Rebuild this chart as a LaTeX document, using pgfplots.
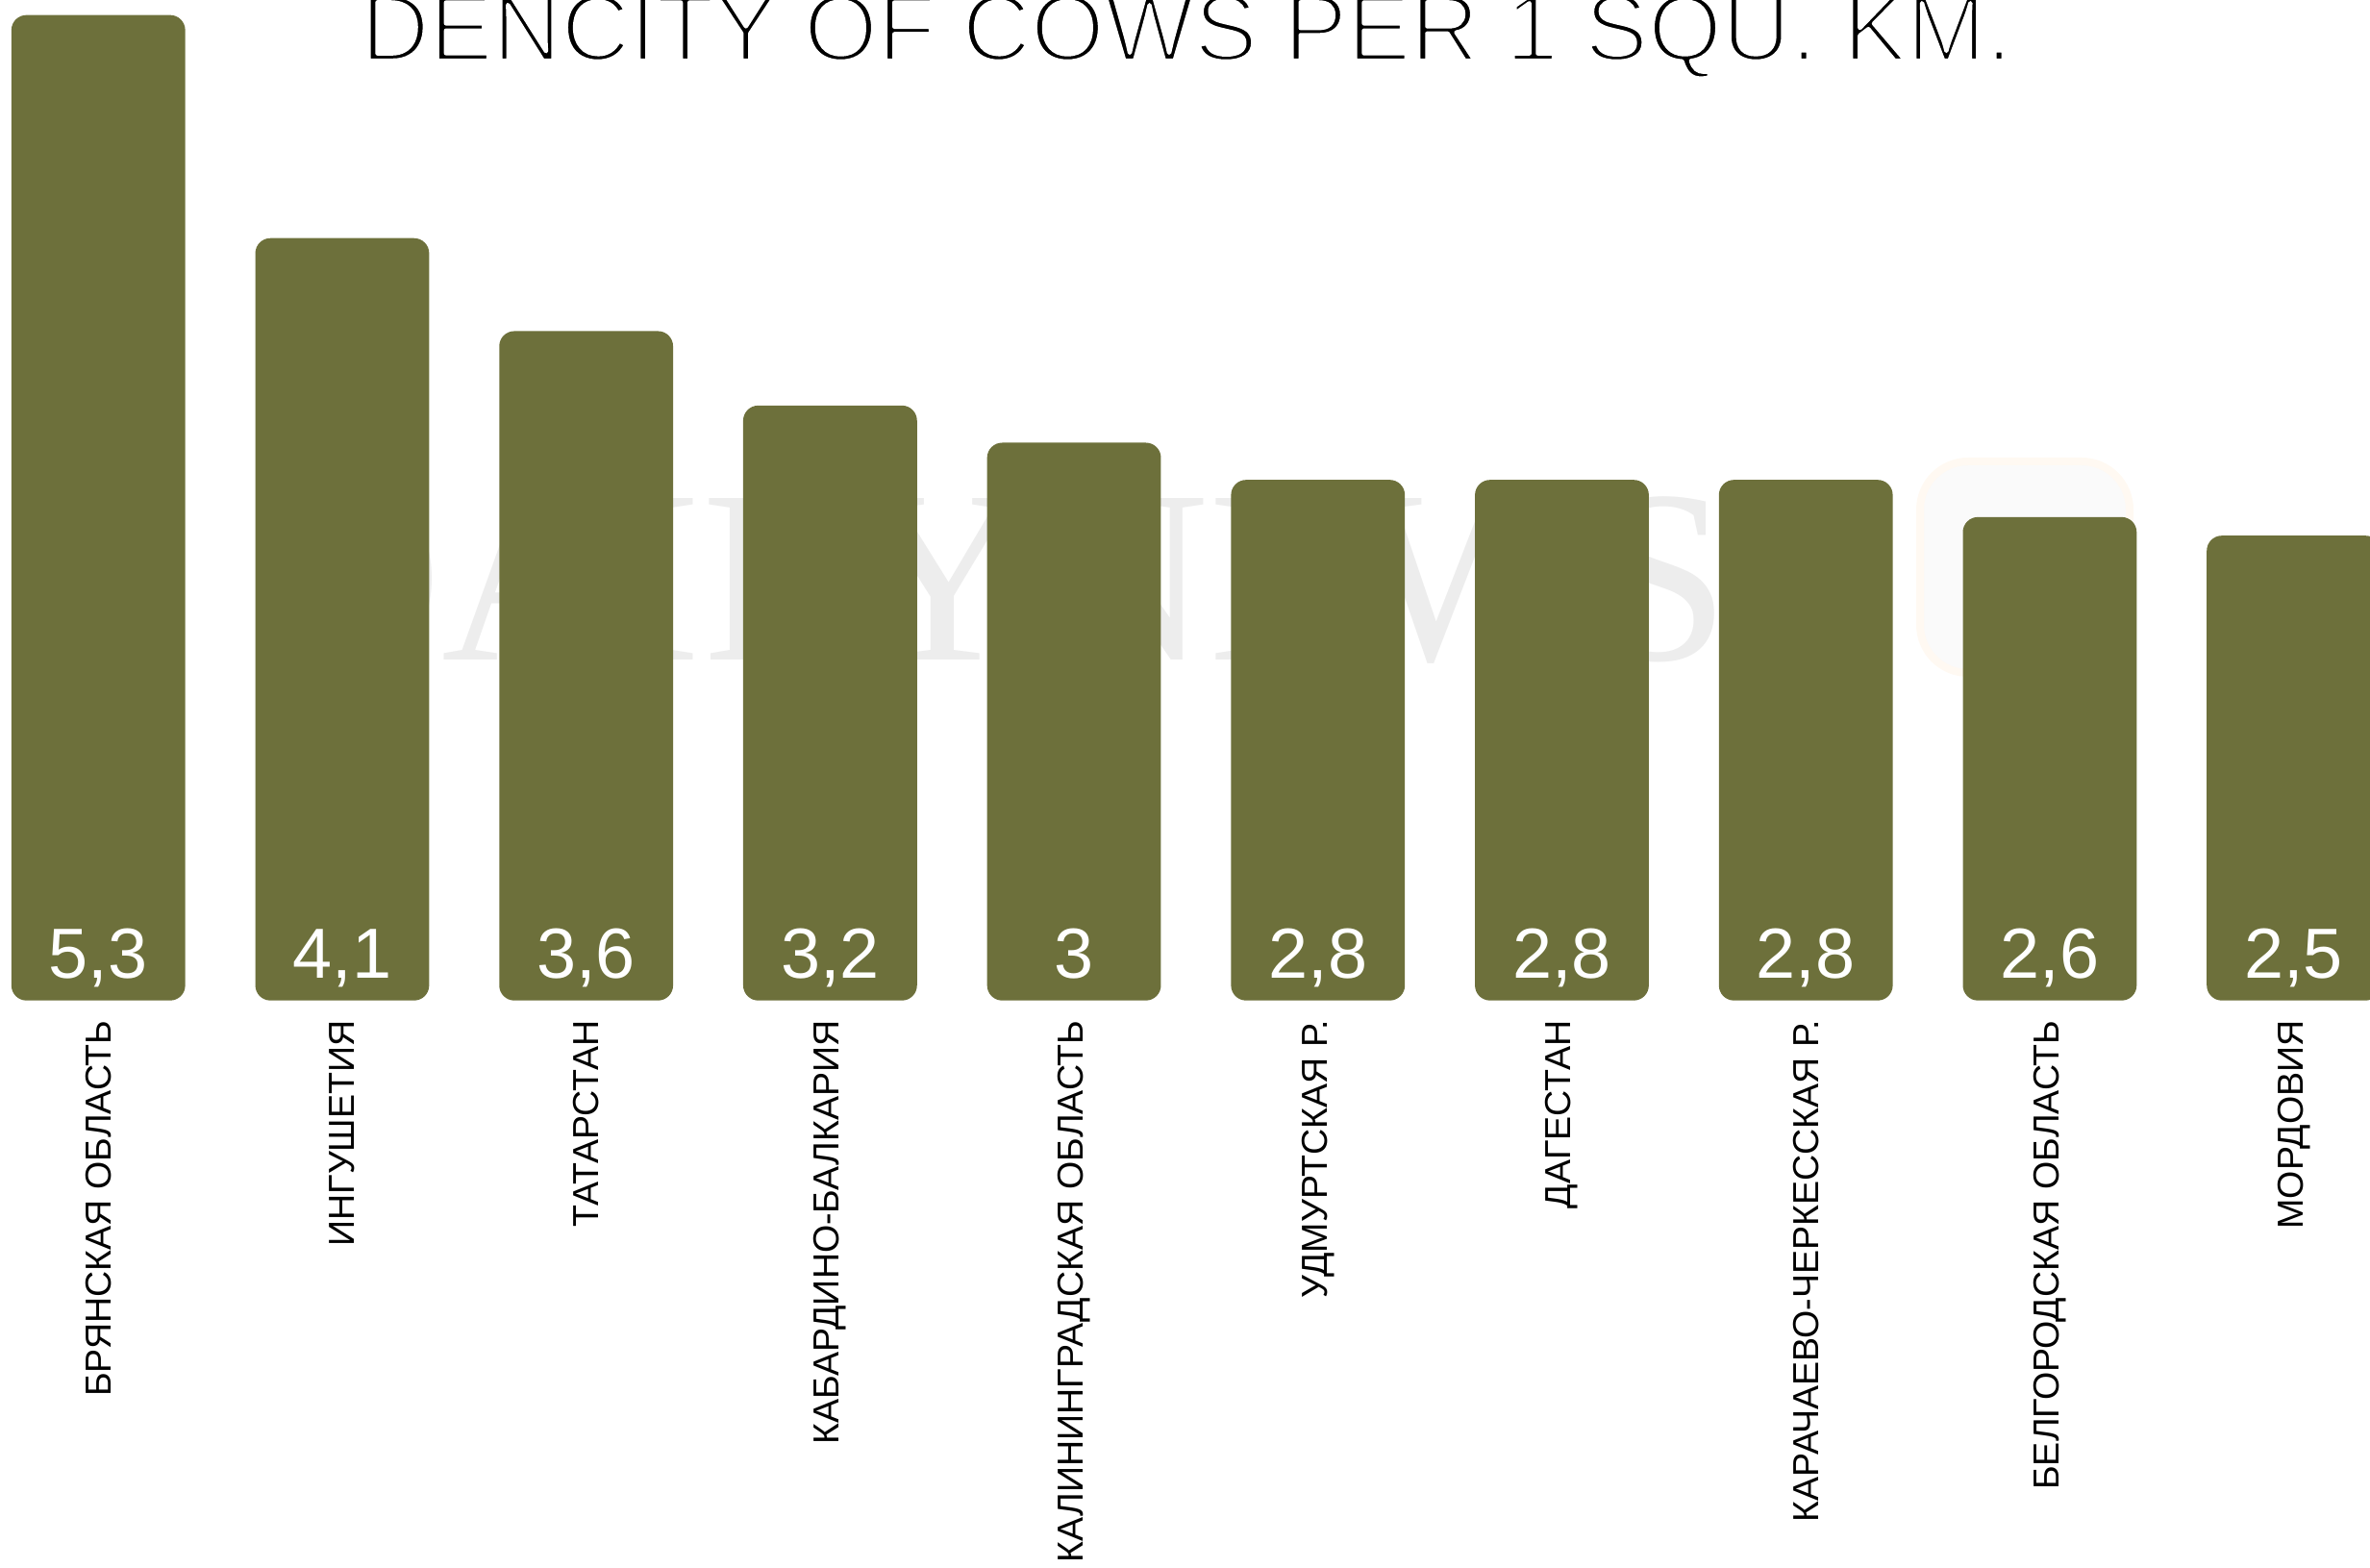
\documentclass[border=0pt]{standalone}
\usepackage{fontspec}
\setmainfont{Liberation Sans}
\newfontfamily\wmfont{Liberation Serif}
\usepackage{pgfplots}
\usepackage{pgfplotstable}
\pgfplotsset{compat=1.18}
\definecolor{barolive}{HTML}{6D703B}

% thin the title strokes: fill + white outline (text render mode 2)
\newcommand\thintext[1]{\special{pdf:literal direct 2 Tr 1.25 w 1 1 1 RG 1 j}#1\special{pdf:literal direct 0 Tr}}

% density of cows per 1 sq. km
\pgfplotstableread{
x y lab
0 5.3 5,3
1 4.1 4,1
2 3.6 3,6
3 3.2 3,2
4 3.0 3
5 2.8 2,8
6 2.8 2,8
7 2.8 2,8
8 2.6 2,6
9 2.5 2,5
}\cowdata

\begin{document}
\begin{tikzpicture}
\useasboundingbox (0,0) rectangle (24.65,16.31);
\clip (0,0) rectangle (24.65,16.31);

% faint watermark
\node[anchor=base, text=black!7, inner sep=0pt, font=\wmfont\fontsize{73}{73}\selectfont] at (10.37,9.44) {DAIRYNEWS};
\draw[line width=0.08cm, draw=orange!5, fill=black!2, rounded corners=0.5cm] (19.97,9.31) rectangle (22.15,11.51);

% title
\node[anchor=base, inner sep=0pt, font=\fontsize{28.1}{28.1}\selectfont] at (12.34,15.68) {\thintext{DENCITY OF COWS PER 1 SQU. KM.}};

\begin{axis}[
  at={(0,5.903cm)}, anchor=south west,
  scale only axis, width=24.65cm, height=10.407cm,
  xmin=-0.403, xmax=9.313, ymin=0, ymax=5.381,
  axis line style={draw=none},
  major tick style={draw=none},
  ytick=\empty,
  xtick={0,...,9},
  xticklabels={БРЯНСКАЯ ОБЛАСТЬ, ИНГУШЕТИЯ, ТАТАРСТАН, КАБАРДИНО-БАЛКАРИЯ, КАЛИНИНГРАДСКАЯ ОБЛАСТЬ, УДМУРТСКАЯ Р., ДАГЕСТАН, КАРАЧАЕВО-ЧЕРКЕССКАЯ Р., БЕЛГОРОДСКАЯ ОБЛАСТЬ, МОРДОВИЯ},
  xticklabel style={rotate=90, anchor=east, inner xsep=0.2cm, inner ysep=0pt, font=\fontsize{10.7}{10.7}\selectfont},
]
\addplot[ybar, bar width=1.808cm, fill=barolive, draw=none, rounded corners=0.157cm] table[x=x, y=y] {\cowdata};
\addplot[draw=none, mark=none, nodes near coords, point meta=explicit symbolic,
  every node near coord/.append style={anchor=base, text=white, inner sep=0pt, font=\fontsize{21}{21}\selectfont}]
  table[x=x, y expr=0.12, meta=lab] {\cowdata};
\end{axis}
\end{tikzpicture}
\end{document}
